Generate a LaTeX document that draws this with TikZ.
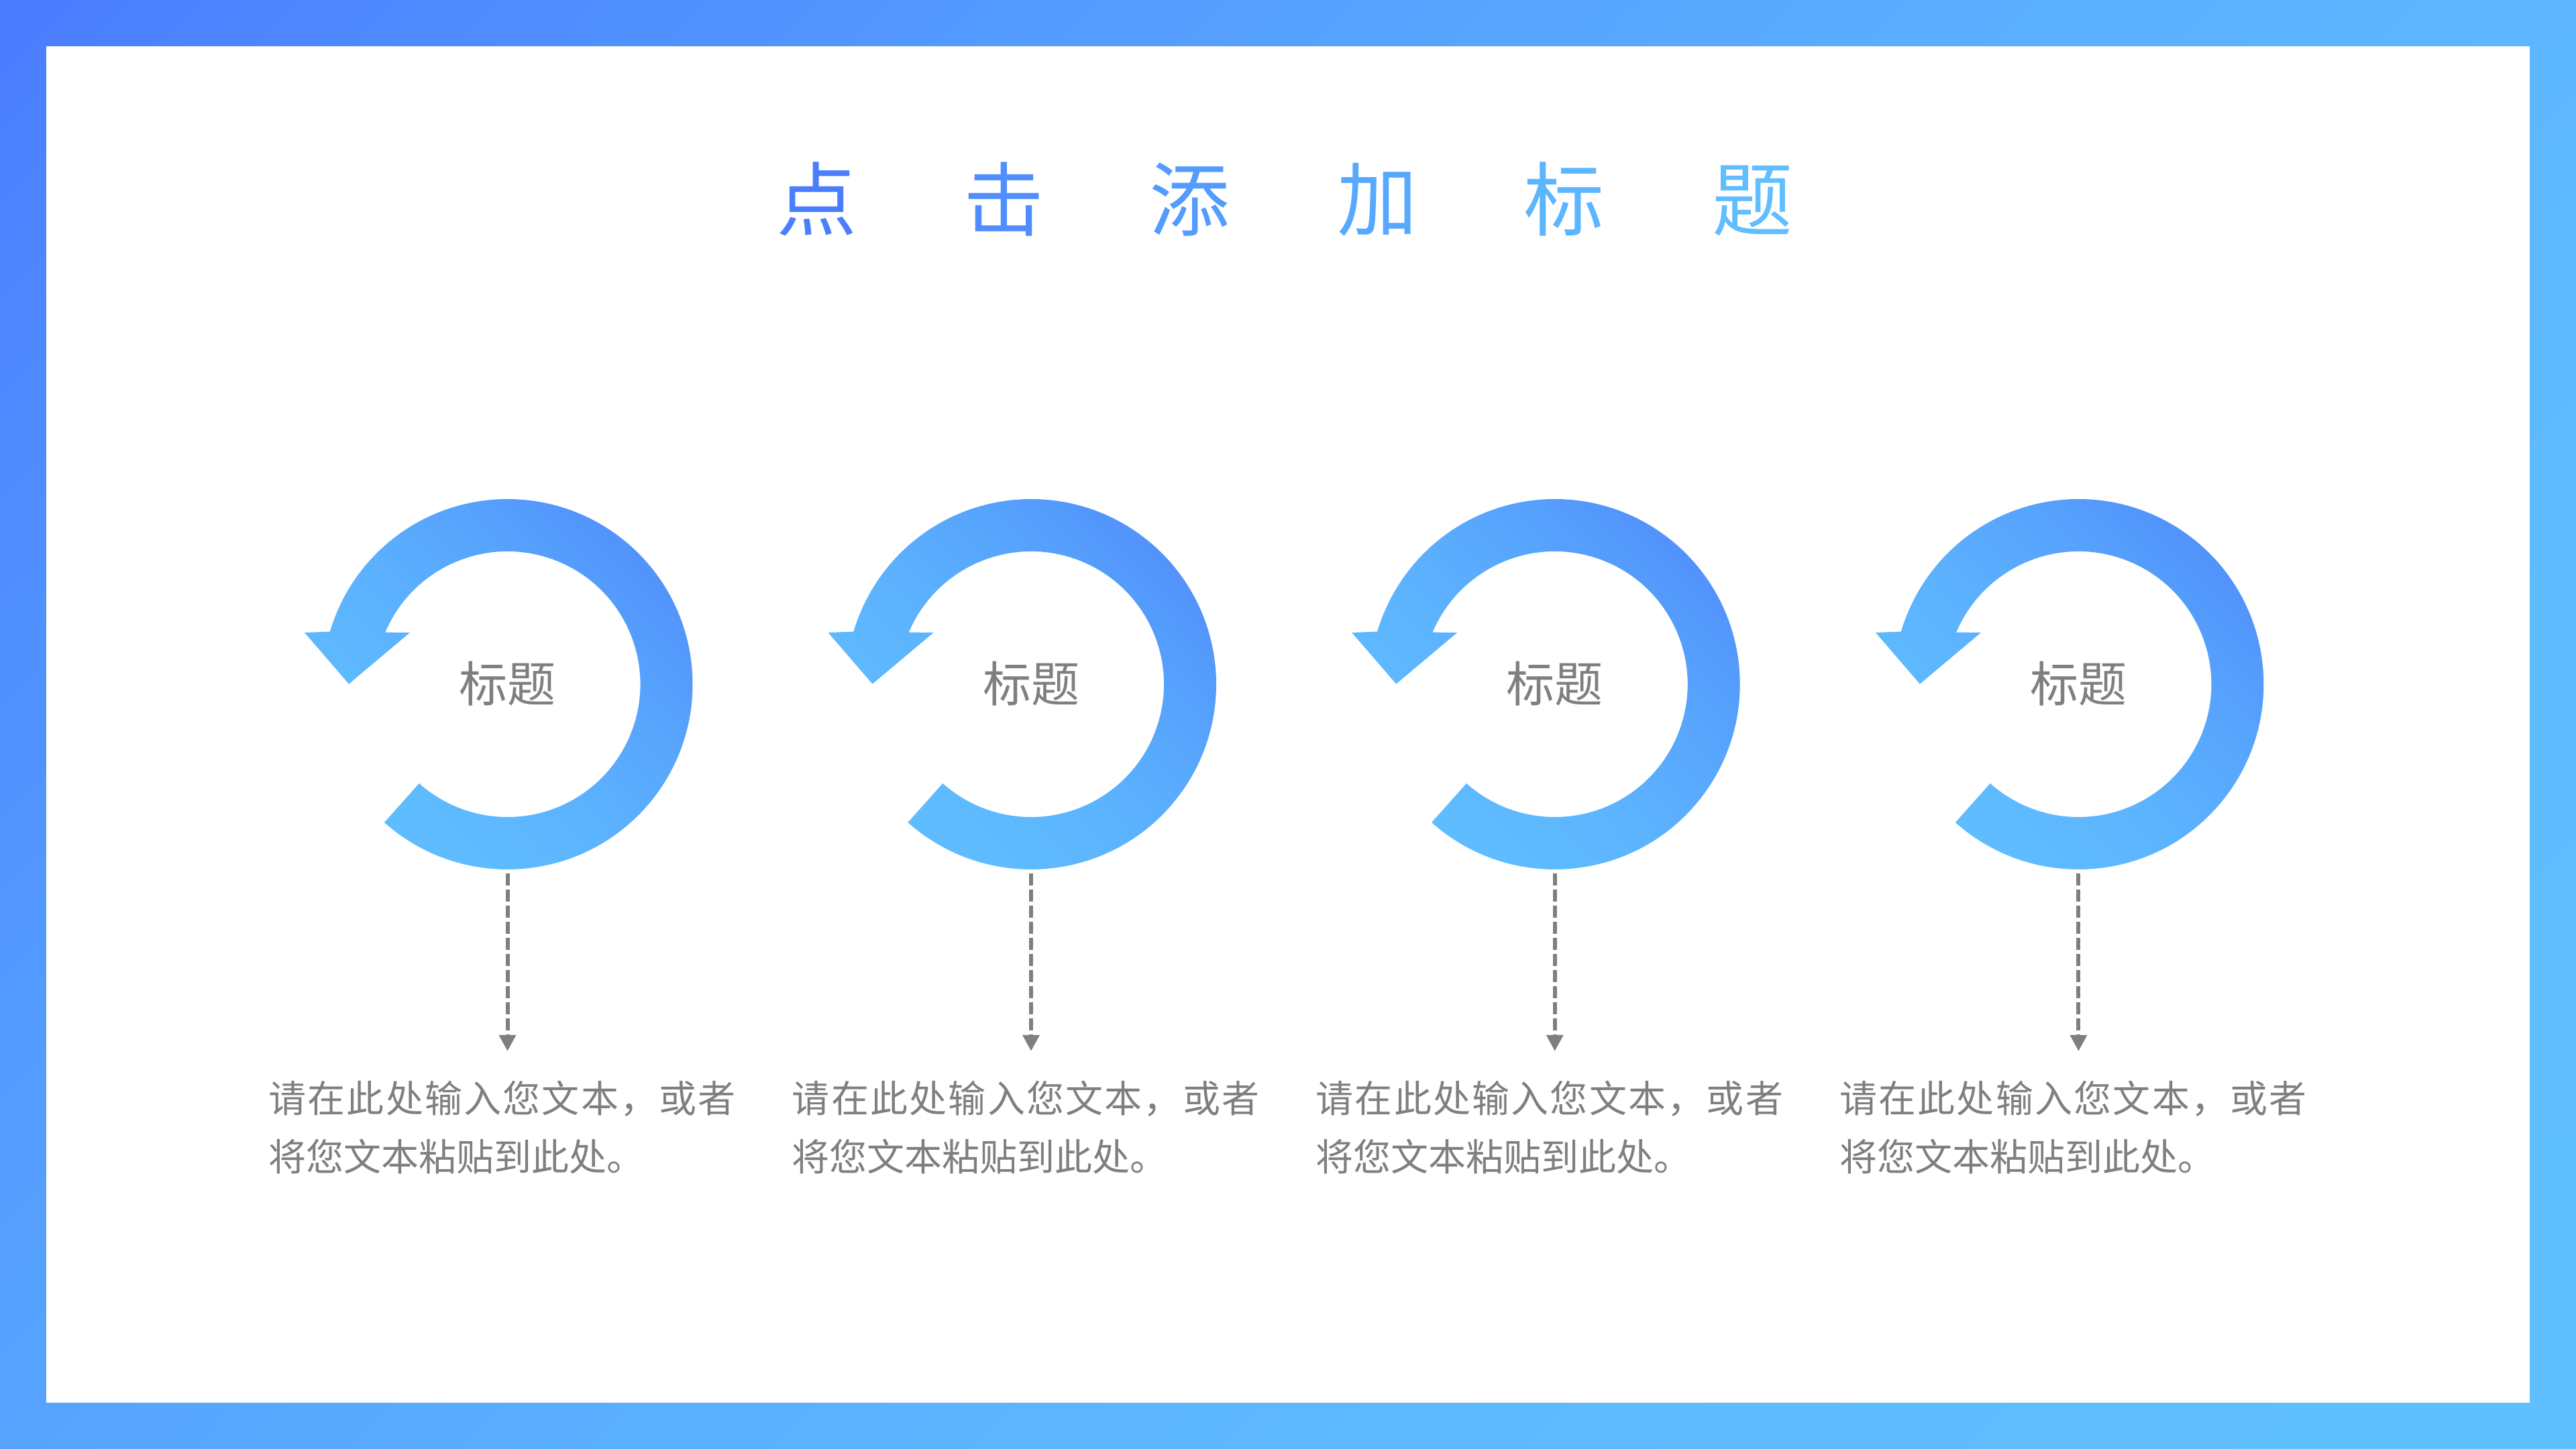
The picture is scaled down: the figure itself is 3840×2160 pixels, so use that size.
\documentclass[tikz,border=0pt]{standalone}
\usepackage{fontspec}
\usetikzlibrary{arrows.meta}
\setmainfont{Noto Sans CJK SC}
\newfontfamily\cjkbody[LetterSpace=4]{Noto Sans CJK SC}
\definecolor{txtgray}{HTML}{7F7F7F}
\definecolor{t1}{HTML}{4A7EFB}
\definecolor{t2}{HTML}{4F8EFC}
\definecolor{t3}{HTML}{539CFD}
\definecolor{t4}{HTML}{57A9FE}
\definecolor{t5}{HTML}{5CB5FF}
\definecolor{t6}{HTML}{60BEFF}
% x y on the stack, in a 100bp box whose central 50bp holds the path
\pgfdeclarefunctionalshading{framegrad}{\pgfpointorigin}{\pgfpoint{100bp}{100bp}}{}{
  75 exch sub 43.2 mul exch 25 sub 76.8 mul add 6000 div
  1 exch sub dup mul 1 exch sub
  dup 0.0863 mul 0.2902 add exch
  0.2627 mul 0.4863 add
  1.0
}
\pgfdeclarefunctionalshading{ringgrad}{\pgfpointorigin}{\pgfpoint{100bp}{100bp}}{}{
  add 150 exch sub 100 div
  1 exch sub dup mul 1 exch sub
  dup 0.0863 mul 0.2902 add exch
  dup 0.2627 mul 0.4863 add exch
  0.02 mul 0.98 add
}
\tikzset{
  titlechar/.style={anchor=base,inner sep=0pt,font=\fontsize{30pt}{36pt}\selectfont},
  ringlabel/.style={anchor=base,inner sep=0pt,text=txtgray,font=\fontsize{18pt}{22pt}\selectfont},
  bodyline/.style={anchor=base west,inner sep=0pt,text=txtgray,font=\fontsize{14pt}{22pt}\selectfont},
  bodywide/.style={bodyline,font=\cjkbody\fontsize{14pt}{22pt}\selectfont},
  flowline/.style={draw=txtgray,line width=1.5pt,dash pattern=on 4.5pt off 1.5pt,-{Triangle[length=6pt,width=6pt]}}
}
\begin{document}
\begin{tikzpicture}[x=0.25pt,y=0.25pt]
\path[use as bounding box] (0,0) rectangle (3840,2160);
\shade[shading=framegrad] (0,0) rectangle (3840,2160);
\fill[white] (69,69) rectangle (3771,2091);
\node[titlechar,text=t1] (c1) at (1217,1817) {点};
\node[titlechar,text=t2] (c2) at (1496,1817) {击};
\node[titlechar,text=t3] (c3) at (1773,1817) {添};
\node[titlechar,text=t4] (c4) at (2053,1817) {加};
\node[titlechar,text=t5] (c5) at (2331,1817) {标};
\node[titlechar,text=t6] (c6) at (2612,1817) {题};
\foreach \i/\cx in {1/756.5,2/1537,3/2317.7,4/3098.4}{
  \begin{scope}[shift={(\cx,1140)}]
    \shade[shading=ringgrad]
      (228.3:276) arc[start angle=228.3,end angle=523.5,radius=276]
      -- (-302.5,77) -- (-236.5,0.4) -- (-145.5,77) -- (157:198)
      arc[start angle=517,end angle=228.3,radius=198] -- cycle;
    \node[ringlabel] (lab\i) at (0,-27) {标题};
    \coordinate (s\i) at (0,-282);
    \coordinate (e\i) at (0,-547);
    \draw[flowline] (s\i) -- (e\i);
    \node[bodywide] (la\i) at (-357,-639) {请在此处输入您文本，或者};
    \node[bodyline] (lb\i) at (-357,-726) {将您文本粘贴到此处。};
  \end{scope}
}
\end{tikzpicture}
\end{document}
